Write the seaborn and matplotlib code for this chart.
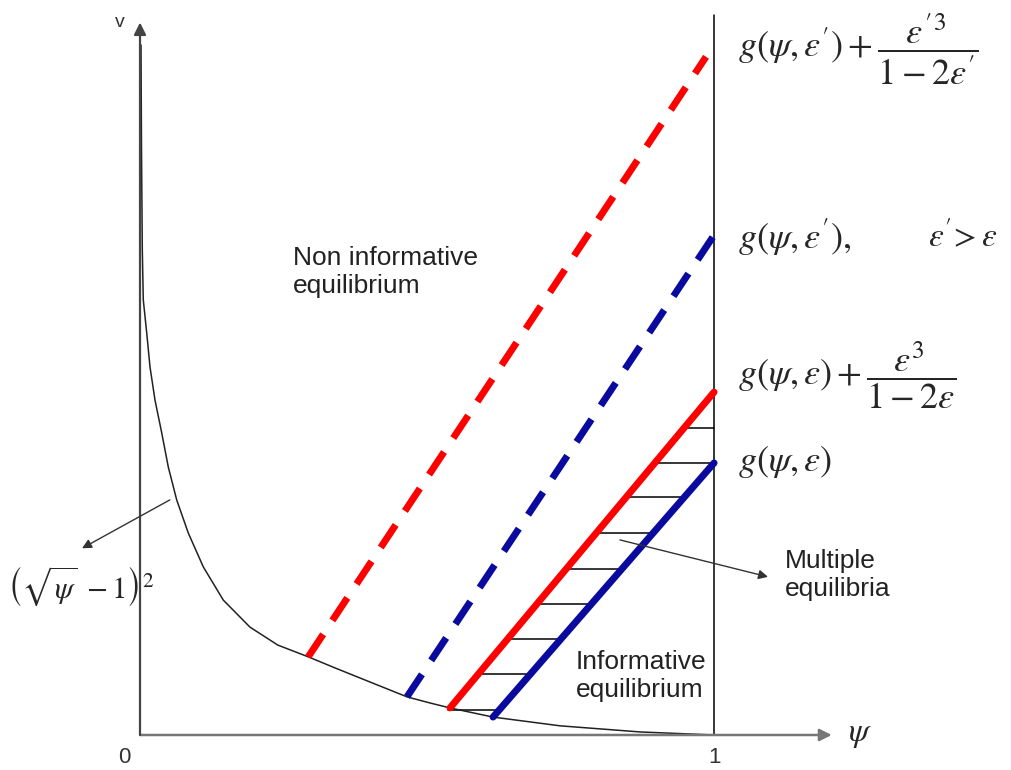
import matplotlib
matplotlib.use("Agg")
import matplotlib.pyplot as plt
import seaborn as sns
import numpy as np

# curve (sqrt(psi)-1)^2 (psi, v)
curve_psi = [0.0017, 0.0026, 0.0040, 0.0057, 0.0117, 0.0174, 0.0261, 0.0378,
             0.0493, 0.0639, 0.0841, 0.1103, 0.1451, 0.1916, 0.2400, 0.2932,
             0.3397, 0.4007, 0.4652, 0.5052, 0.540, 0.615, 0.732, 0.871, 1.000]
curve_v = [1.811, 1.535, 1.273, 1.142, 1.055, 0.966, 0.879, 0.793,
           0.703, 0.617, 0.530, 0.441, 0.354, 0.283, 0.236, 0.205,
           0.176, 0.139, 0.100, 0.084, 0.071, 0.047, 0.024, 0.008, 0.000]

# straight lines: start and end points (psi, v)
red_dash_psi, red_dash_v = [0.293, 0.986], [0.205, 1.780]
blue_dash_psi, blue_dash_v = [0.465, 1.000], [0.100, 1.312]
red_solid_psi, red_solid_v = [0.540, 1.000], [0.071, 0.900]
blue_solid_psi, blue_solid_v = [0.615, 1.000], [0.047, 0.714]

# heights of the hatch lines in the multiple equilibria band
hatch_v = [0.806, 0.714, 0.625, 0.530, 0.436, 0.344, 0.252, 0.160, 0.066]

sns.set_theme(style="white")
plt.rcParams["mathtext.fontset"] = "stix"
plt.rcParams["font.family"] = ["Liberation Sans", "DejaVu Sans"]

fig = plt.figure(figsize=(10.12, 7.7), dpi=100)
ax = fig.add_axes([0, 0, 1, 1])
ax.set_xlim(-0.2439, 1.519)
ax.set_ylim(-0.0919, 1.929)
ax.axis("off")

# axes with arrows
ax.annotate("", xy=(1.205, 0), xytext=(0, 0),
            arrowprops=dict(arrowstyle="-|>", color="#777777", lw=1.8,
                            mutation_scale=18, shrinkA=0, shrinkB=0))
ax.annotate("", xy=(0, 1.87), xytext=(0, 0),
            arrowprops=dict(arrowstyle="-|>", color="#444444", lw=1.6,
                            mutation_scale=18, shrinkA=0, shrinkB=0))
ax.plot([1, 1], [0, 1.89], color="black", lw=1.1)

sns.lineplot(x=curve_psi, y=curve_v, ax=ax, color="#222222", linewidth=1.1,
             sort=False, estimator=None)

dash = (0, (3.9, 2.4))
sns.lineplot(x=red_dash_psi, y=red_dash_v, ax=ax, color="#ff0000",
             linewidth=5, linestyle=dash, sort=False, estimator=None)
sns.lineplot(x=blue_dash_psi, y=blue_dash_v, ax=ax, color="#0a0a9e",
             linewidth=5, linestyle=dash, sort=False, estimator=None)
sns.lineplot(x=red_solid_psi, y=red_solid_v, ax=ax, color="#ff0000",
             linewidth=5, sort=False, estimator=None)
sns.lineplot(x=blue_solid_psi, y=blue_solid_v, ax=ax, color="#0a0a9e",
             linewidth=5, sort=False, estimator=None)


def x_on(psi, v, level):
    return psi[0] + (level - v[0]) * (psi[1] - psi[0]) / (v[1] - v[0])


for h in hatch_v:
    x0 = x_on(red_solid_psi, red_solid_v, h)
    x1 = min(x_on(blue_solid_psi, blue_solid_v, h), 1.0)
    ax.plot([x0, x1], [h, h], color="black", lw=1.1, zorder=1)

# axis labels
ax.text(-0.035, 1.87, "v", fontsize=14, ha="center", va="center", color="#333333")
ax.text(-0.027, -0.058, "0", fontsize=16, ha="center", va="center", color="#333333")
ax.text(1.0, -0.058, "1", fontsize=16, ha="center", va="center", color="#333333")
ax.text(1.255, 0.0, r"$\psi$", fontsize=24, ha="center", va="center")

# region labels
ax.text(0.267, 1.215, "Non informative\nequilibrium", fontsize=19,
        ha="left", va="center", linespacing=1.2, color="#222222")
ax.text(0.759, 0.155, "Informative\nequilibrium", fontsize=19,
        ha="left", va="center", linespacing=1.2, color="#222222")
ax.text(1.124, 0.42, "Multiple\nequilibria", fontsize=19,
        ha="left", va="center", linespacing=1.2, color="#222222")

# curve labels
ax.text(1.042, 1.80, r"$g(\psi,\varepsilon')+\dfrac{\varepsilon'^{3}}{1-2\varepsilon'}$",
        fontsize=26, ha="left", va="center")
ax.text(1.042, 1.307, r"$g(\psi,\varepsilon'),$", fontsize=26, ha="left", va="center")
ax.text(1.372, 1.307, r"$\varepsilon'\!>\varepsilon$", fontsize=24, ha="left", va="center")
ax.text(1.042, 0.945, r"$g(\psi,\varepsilon)+\dfrac{\varepsilon^{3}}{1-2\varepsilon}$",
        fontsize=26, ha="left", va="center")
ax.text(1.042, 0.717, r"$g(\psi,\varepsilon)$", fontsize=26, ha="left", va="center")
ax.text(-0.232, 0.39, r"$\left(\sqrt{\psi}\;-1\right)^{2}$", fontsize=22,
        ha="left", va="center")

# pointer arrows
ax.annotate("", xy=(-0.101, 0.490), xytext=(0.052, 0.617),
            arrowprops=dict(arrowstyle="-|>", color="#333333", lw=1.0,
                            mutation_scale=14, shrinkA=0, shrinkB=0))
ax.annotate("", xy=(1.094, 0.415), xytext=(0.836, 0.512),
            arrowprops=dict(arrowstyle="-|>", color="#333333", lw=1.0,
                            mutation_scale=14, shrinkA=0, shrinkB=0))

fig.savefig("out.png", dpi=100)
